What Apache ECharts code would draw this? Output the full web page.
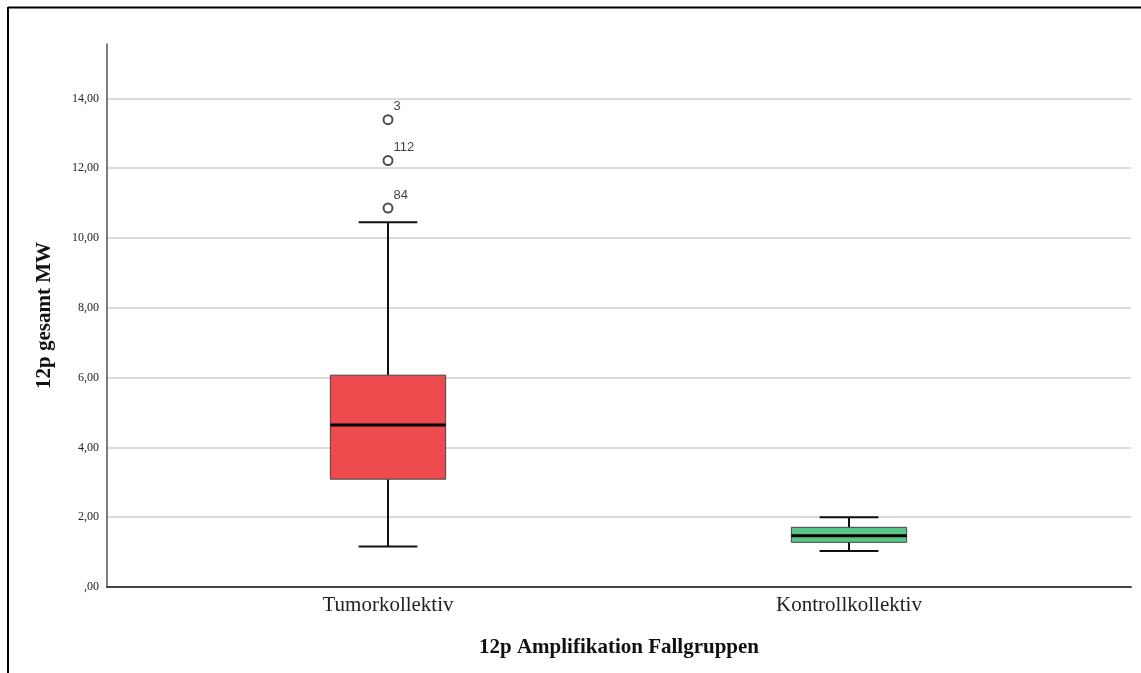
<!DOCTYPE html>
<html lang="de">
<head>
  <meta charset="UTF-8">
  <title>12p gesamt MW</title>
  <script src="https://cdn.jsdelivr.net/npm/echarts@6/dist/echarts.min.js"></script>
  <style>
    html, body { margin:0; padding:0; background:#fff; }
    #chart { width:1141px; height:673px; }
  </style>
</head>
<body>
<div id="chart"></div>
<script>
  // Gruppen und Boxplot-Kennwerte (min, Q1, Median, Q3, max)
  var groups = ['Tumorkollektiv', 'Kontrollkollektiv'];
  var lowWhisker = [1.16, 1.03];
  var q1 = [3.09, 1.28];
  var median = [4.64, 1.47];
  var q3 = [6.07, 1.71];
  var highWhisker = [10.45, 2.0];
  var boxColors = ['#ed4b4d', '#5bc588'];

  // Ausreißer (nur Tumorkollektiv)
  var outlierGroup = [0, 0, 0];
  var outlierValues = [13.39, 12.22, 10.86];
  var outlierIds = ['3', '112', '84'];

  var yTicks = [0, 2, 4, 6, 8, 10, 12, 14];

  var serif = "'Liberation Serif', 'DejaVu Serif', serif";

  var boxData = groups.map(function (g, i) {
    return [i, lowWhisker[i], q1[i], median[i], q3[i], highWhisker[i]];
  });
  var outlierData = outlierValues.map(function (v, i) {
    return [outlierGroup[i], v, outlierIds[i]];
  });

  function fmt(v) {
    if (v === 0) return ',00';
    return v.toFixed(2).replace('.', ',');
  }

  var chart = echarts.init(document.getElementById('chart'));

  chart.setOption({
    backgroundColor: '#fff',
    animation: false,
    graphic: [
      { type: 'line', shape: { x1: 8, y1: 7.5, x2: 1141, y2: 7.5 }, style: { stroke: '#000', lineWidth: 2 } },
      { type: 'line', shape: { x1: 8, y1: 7, x2: 8, y2: 673 }, style: { stroke: '#000', lineWidth: 2 } }
    ],
    grid: [
      { left: 107, right: 10, top: 44, bottom: 86 },
      { left: 157.5, right: 61.5, top: 44, bottom: 86 }
    ],
    xAxis: [
      {
        gridIndex: 0, type: 'value', min: 0, max: 1,
        axisLine: { show: true, lineStyle: { color: '#444', width: 2 } },
        axisTick: { show: false }, axisLabel: { show: false }, splitLine: { show: false },
        name: '12p Amplifikation Fallgruppen', nameLocation: 'middle', nameGap: 50,
        nameTextStyle: { fontFamily: serif, fontWeight: 'bold', fontSize: 21, color: '#111' }
      },
      {
        gridIndex: 1, type: 'category', data: groups,
        axisLine: { show: false }, axisTick: { show: false },
        axisLabel: { fontFamily: serif, fontSize: 21, color: '#222', margin: 8 }
      }
    ],
    yAxis: [
      {
        gridIndex: 0, type: 'value', min: 0, max: 15.56, interval: 2,
        axisLine: { show: true, lineStyle: { color: '#555', width: 1.5 } },
        axisTick: { show: false },
        axisLabel: { fontFamily: serif, fontSize: 12, color: '#222', margin: 8, showMaxLabel: false,
          formatter: function (v) { return yTicks.indexOf(v) >= 0 ? fmt(v) : ''; } },
        splitLine: { show: true, showMinLine: false, showMaxLine: false, lineStyle: { color: '#cfcfcf', width: 1.5 } },
        name: '12p gesamt MW', nameLocation: 'middle', nameGap: 52,
        nameTextStyle: { fontFamily: serif, fontWeight: 'bold', fontSize: 21, color: '#111' }
      },
      {
        gridIndex: 1, type: 'value', min: 0, max: 15.56,
        axisLine: { show: false }, axisTick: { show: false }, axisLabel: { show: false }, splitLine: { show: false }
      }
    ],
    series: [
      {
        type: 'custom',
        xAxisIndex: 1, yAxisIndex: 1,
        data: boxData,
        encode: { x: 0, y: [1, 2, 3, 4, 5] },
        renderItem: function (params, api) {
          var c = api.value(0);
          var bw = api.size([1, 0])[0] * 0.25;
          var cw = bw * 0.51;
          var pLow = api.coord([c, api.value(1)]);
          var pQ1 = api.coord([c, api.value(2)]);
          var pMed = api.coord([c, api.value(3)]);
          var pQ3 = api.coord([c, api.value(4)]);
          var pHigh = api.coord([c, api.value(5)]);
          var x = pLow[0];
          var wStyle = { stroke: '#111', lineWidth: 2 };
          return {
            type: 'group',
            children: [
              { type: 'line', shape: { x1: x, y1: pQ1[1], x2: x, y2: pLow[1] }, style: wStyle },
              { type: 'line', shape: { x1: x, y1: pQ3[1], x2: x, y2: pHigh[1] }, style: wStyle },
              { type: 'line', shape: { x1: x - cw / 2, y1: pLow[1], x2: x + cw / 2, y2: pLow[1] }, style: wStyle },
              { type: 'line', shape: { x1: x - cw / 2, y1: pHigh[1], x2: x + cw / 2, y2: pHigh[1] }, style: wStyle },
              { type: 'rect', shape: { x: x - bw / 2, y: pQ3[1], width: bw, height: pQ1[1] - pQ3[1] },
                style: { fill: boxColors[params.dataIndex], stroke: '#444', lineWidth: 1 } },
              { type: 'line', shape: { x1: x - bw / 2, y1: pMed[1], x2: x + bw / 2, y2: pMed[1] },
                style: { stroke: '#000', lineWidth: 3 } }
            ]
          };
        }
      },
      {
        type: 'scatter',
        xAxisIndex: 1, yAxisIndex: 1,
        data: outlierData,
        symbol: 'emptyCircle', symbolSize: 9,
        itemStyle: { color: '#222', borderColor: '#222', borderWidth: 1.5 },
        label: {
          show: true, position: 'right', distance: 0, offset: [0, -13],
          fontFamily: "'Liberation Sans', Arial, sans-serif", fontSize: 13, color: '#111',
          formatter: function (p) { return p.value[2]; }
        }
      }
    ]
  });
</script>
</body>
</html>
